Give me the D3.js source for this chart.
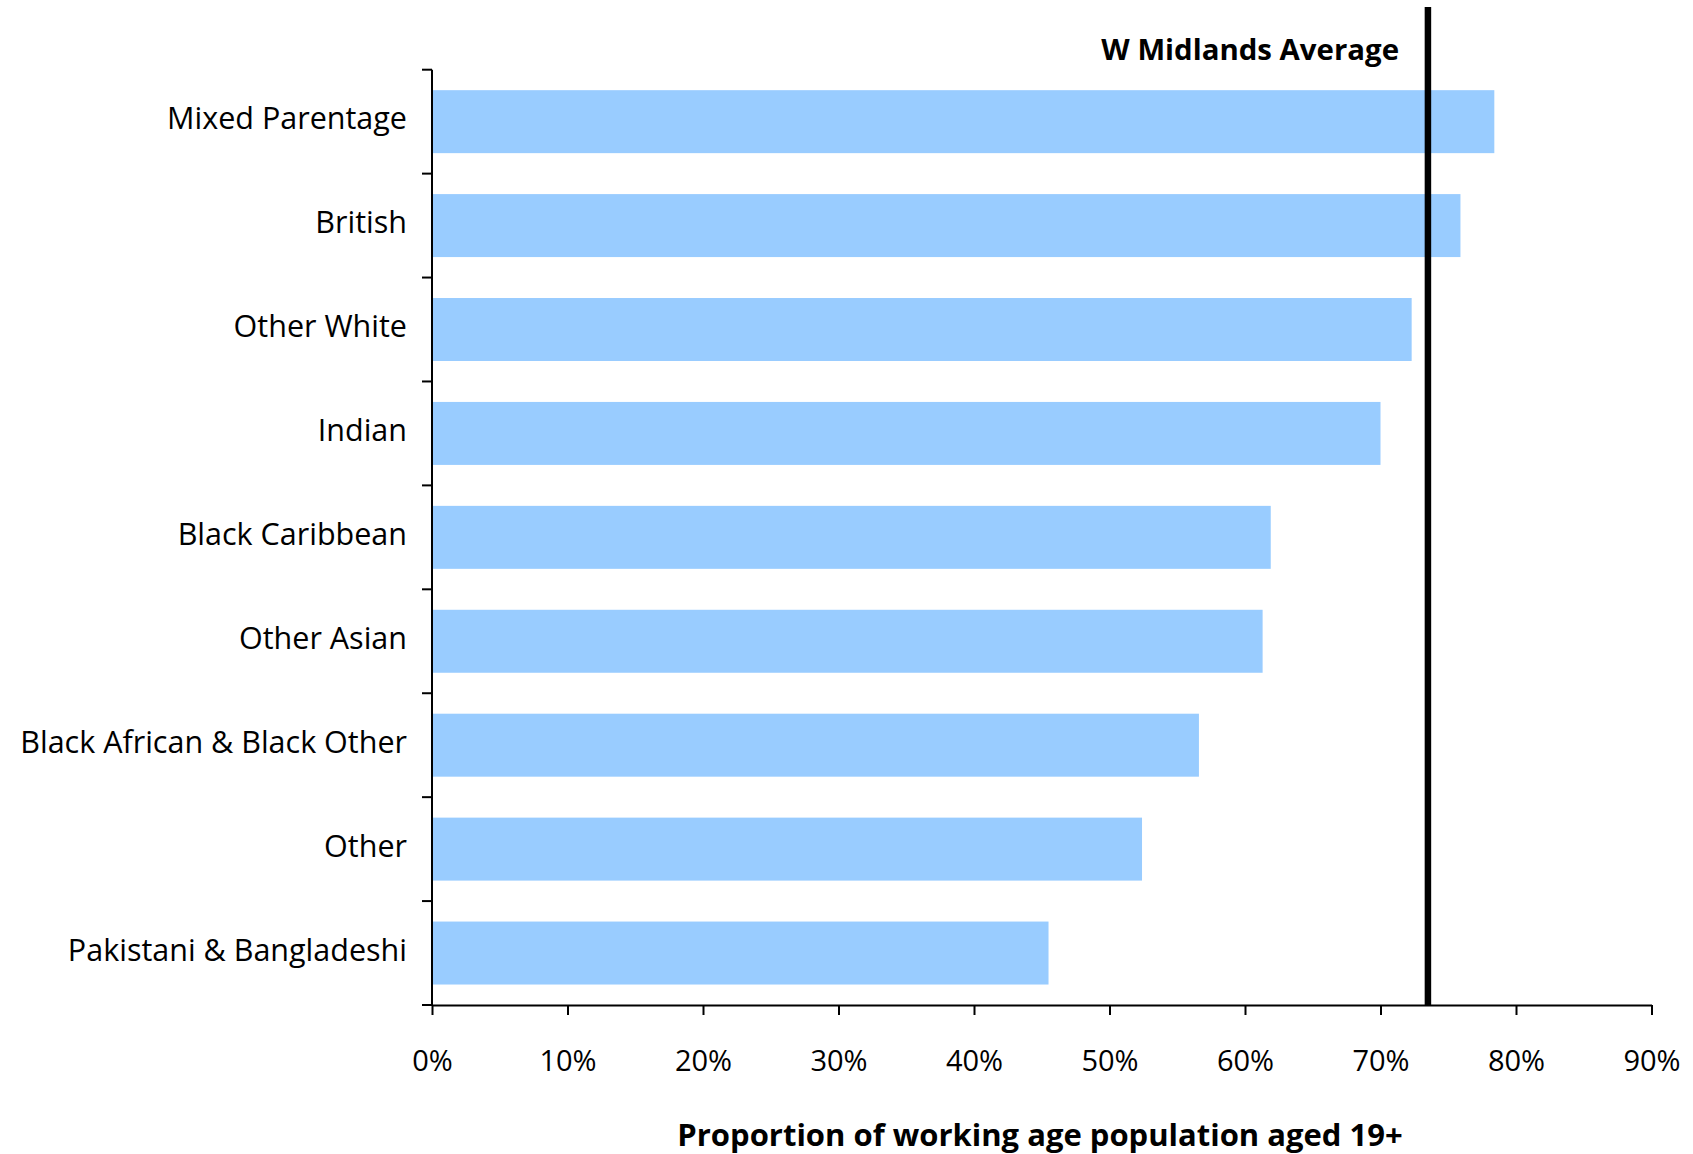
<!DOCTYPE html>
<html>
<head>
<meta charset="utf-8">
<script src="https://cdn.jsdelivr.net/npm/d3@7"></script>
<style>
  html, body { margin: 0; padding: 0; background: #fff; }
  svg text { font-family: "Open Sans", "DejaVu Sans", sans-serif; fill: #000; }
</style>
</head>
<body>
<svg id="chart" width="1693" height="1154"></svg>
<script>
const categories = ["Mixed Parentage", "British", "Other White", "Indian", "Black Caribbean",
  "Other Asian", "Black African & Black Other", "Other", "Pakistani & Bangladeshi"];
const values = [78.4, 75.9, 72.3, 70.0, 61.9, 61.3, 56.6, 52.4, 45.5];
const averageValue = 73.5;
const averageLabel = "W Midlands Average";
const xTicks = [0, 10, 20, 30, 40, 50, 60, 70, 80, 90];
const xTitle = "Proportion of working age population aged 19+";

const svg = d3.select("#chart");
const plotLeft = 432, plotRight = 1651.5, plotTop = 69.7, plotBottom = 1005;

const x = d3.scaleLinear().domain([0, 90]).range([plotLeft, plotRight]);
const y = d3.scaleBand().domain(categories).range([plotTop, plotBottom])
  .paddingInner(0.394).paddingOuter(0.197);

// bars
svg.append("g").selectAll("rect").data(categories).join("rect")
  .attr("x", x(0))
  .attr("y", d => y(d))
  .attr("width", (d, i) => x(values[i]) - x(0))
  .attr("height", y.bandwidth())
  .attr("fill", "#99CCFF");

// y axis line + ticks at band boundaries
const step = y.step();
const gy = svg.append("g");
gy.append("line").attr("x1", plotLeft).attr("x2", plotLeft).attr("y1", plotTop).attr("y2", plotBottom)
  .attr("stroke", "#000").attr("stroke-width", 2);
const boundaries = d3.range(categories.length + 1).map(i => plotTop + i * step);
gy.selectAll("line.tk").data(boundaries).join("line").attr("class", "tk")
  .attr("x1", plotLeft - 10).attr("x2", plotLeft).attr("y1", d => d).attr("y2", d => d)
  .attr("stroke", "#000").attr("stroke-width", 2);
gy.selectAll("text").data(categories).join("text")
  .attr("x", 407)
  .attr("y", d => y(d) + y.bandwidth() / 2 + 7.5)
  .attr("text-anchor", "end")
  .attr("font-size", "30.5px")
  .text(d => d);

// x axis
const gx = svg.append("g").attr("transform", `translate(0,${plotBottom})`);
gx.call(d3.axisBottom(x).tickValues(xTicks).tickSize(10).tickSizeOuter(0)
  .tickFormat(d => d + "%"));
gx.select(".domain").attr("stroke", "#000").attr("stroke-width", 2);
gx.selectAll(".tick line").attr("stroke", "#000").attr("stroke-width", 2);
gx.selectAll(".tick text").attr("font-size", "29px").attr("font-family", "Open Sans")
  .attr("fill", "#000").attr("y", 0).attr("dy", 0)
  .attr("transform", "translate(0,66)");

// average line
svg.append("line")
  .attr("x1", x(averageValue)).attr("x2", x(averageValue))
  .attr("y1", 7).attr("y2", plotBottom)
  .attr("stroke", "#000").attr("stroke-width", 6.5);
svg.append("text")
  .attr("x", 1399).attr("y", 60)
  .attr("text-anchor", "end")
  .attr("font-size", "29.4px").attr("font-weight", "bold")
  .text(averageLabel);

// x title
svg.append("text")
  .attr("x", 1040).attr("y", 1146)
  .attr("text-anchor", "middle")
  .attr("font-size", "31px").attr("font-weight", "bold")
  .text(xTitle);
</script>
</body>
</html>
